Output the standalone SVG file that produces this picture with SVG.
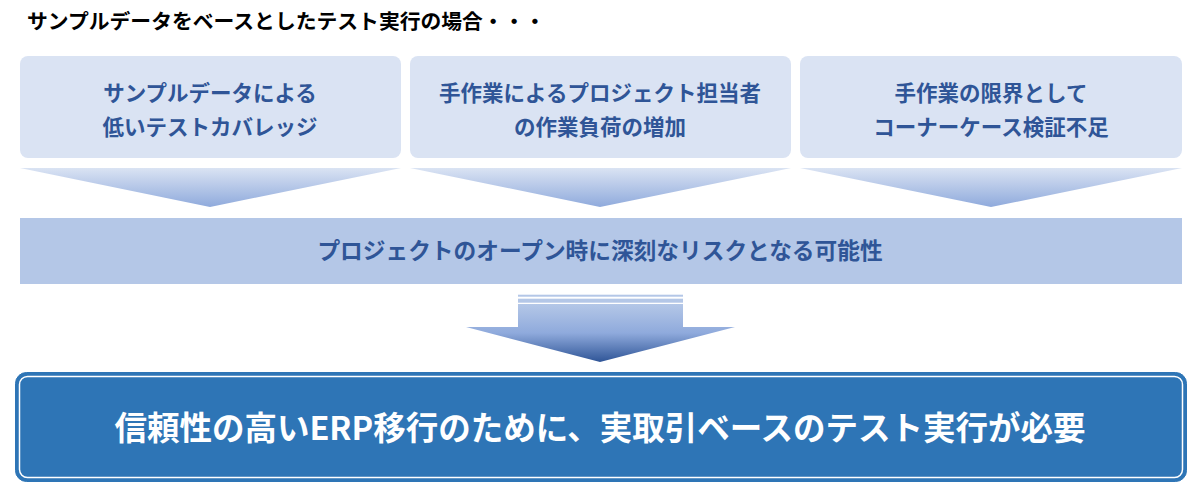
<svg xmlns="http://www.w3.org/2000/svg" width="1200" height="499" viewBox="0 0 1200 499">
<style>
.t{font-family:"Noto Sans CJK JP","Noto Sans",sans-serif;font-weight:bold}
.box{fill:#dae3f3}
.bt{fill:#2f5597;font-size:21.5px;text-anchor:middle}
</style>
<defs>
<linearGradient id="tri" x1="0" y1="0" x2="0" y2="1">
<stop offset="0" stop-color="#dae3f3"/>
<stop offset="1" stop-color="#8faadc"/>
</linearGradient>
<linearGradient id="arr" x1="0" y1="0" x2="0" y2="1">
<stop offset="0" stop-color="#b4c7e7"/>
<stop offset="0.5" stop-color="#8faadc"/>
<stop offset="1" stop-color="#2f5597"/>
</linearGradient>
</defs>
<rect width="1200" height="499" fill="#fff"/>
<text class="t" x="27" y="29" font-size="20.8" fill="#000">サンプルデータをベースとしたテスト実行の場合・・・</text>
<g id="box1">
<rect class="box" x="20" y="56" width="381" height="102" rx="8"/>
<text class="t bt" x="210" y="101">サンプルデータによる</text>
<text class="t bt" x="210" y="135">低いテストカバレッジ</text>
</g>
<g id="box2">
<rect class="box" x="410" y="56" width="381" height="102" rx="8"/>
<text class="t bt" x="600" y="101">手作業によるプロジェクト担当者</text>
<text class="t bt" x="600" y="135">の作業負荷の増加</text>
</g>
<g id="box3">
<rect class="box" x="800" y="56" width="382" height="102" rx="8"/>
<text class="t bt" x="991" y="101">手作業の限界として</text>
<text class="t bt" x="991" y="135">コーナーケース検証不足</text>
</g>
<g id="connectors">
<polygon points="20,168 401,168 210,207" fill="url(#tri)"/>
<polygon points="410,168 791,168 600,207" fill="url(#tri)"/>
<polygon points="800,168 1182,168 991,207" fill="url(#tri)"/>
<rect x="518" y="294.7" width="165" height="2" fill="#b4c7e7"/>
<rect x="518" y="298.7" width="165" height="4" fill="#b4c7e7"/>
<polygon points="518,304 683,304 683,327 735,327 600,362 466,327 518,327" fill="url(#arr)"/>
</g>
<g id="risk">
<rect x="20" y="218" width="1162" height="66" fill="#b4c7e7"/>
<text class="t" x="600" y="259" font-size="22.7" fill="#2f5597" text-anchor="middle">プロジェクトのオープン時に深刻なリスクとなる可能性</text>
</g>
<g id="conclusion">
<rect x="15.5" y="372.5" width="1171" height="109" rx="11" fill="#2e75b6" stroke="#2e75b6" stroke-width="1"/>
<rect x="19.5" y="376.5" width="1163" height="101" rx="8" fill="none" stroke="#fff" stroke-width="1.5"/>
<text class="t" x="600" y="440" font-size="32.5" fill="#fff" text-anchor="middle">信頼性の高いERP移行のために、実取引ベースのテスト実行が必要</text>
</g>
</svg>
